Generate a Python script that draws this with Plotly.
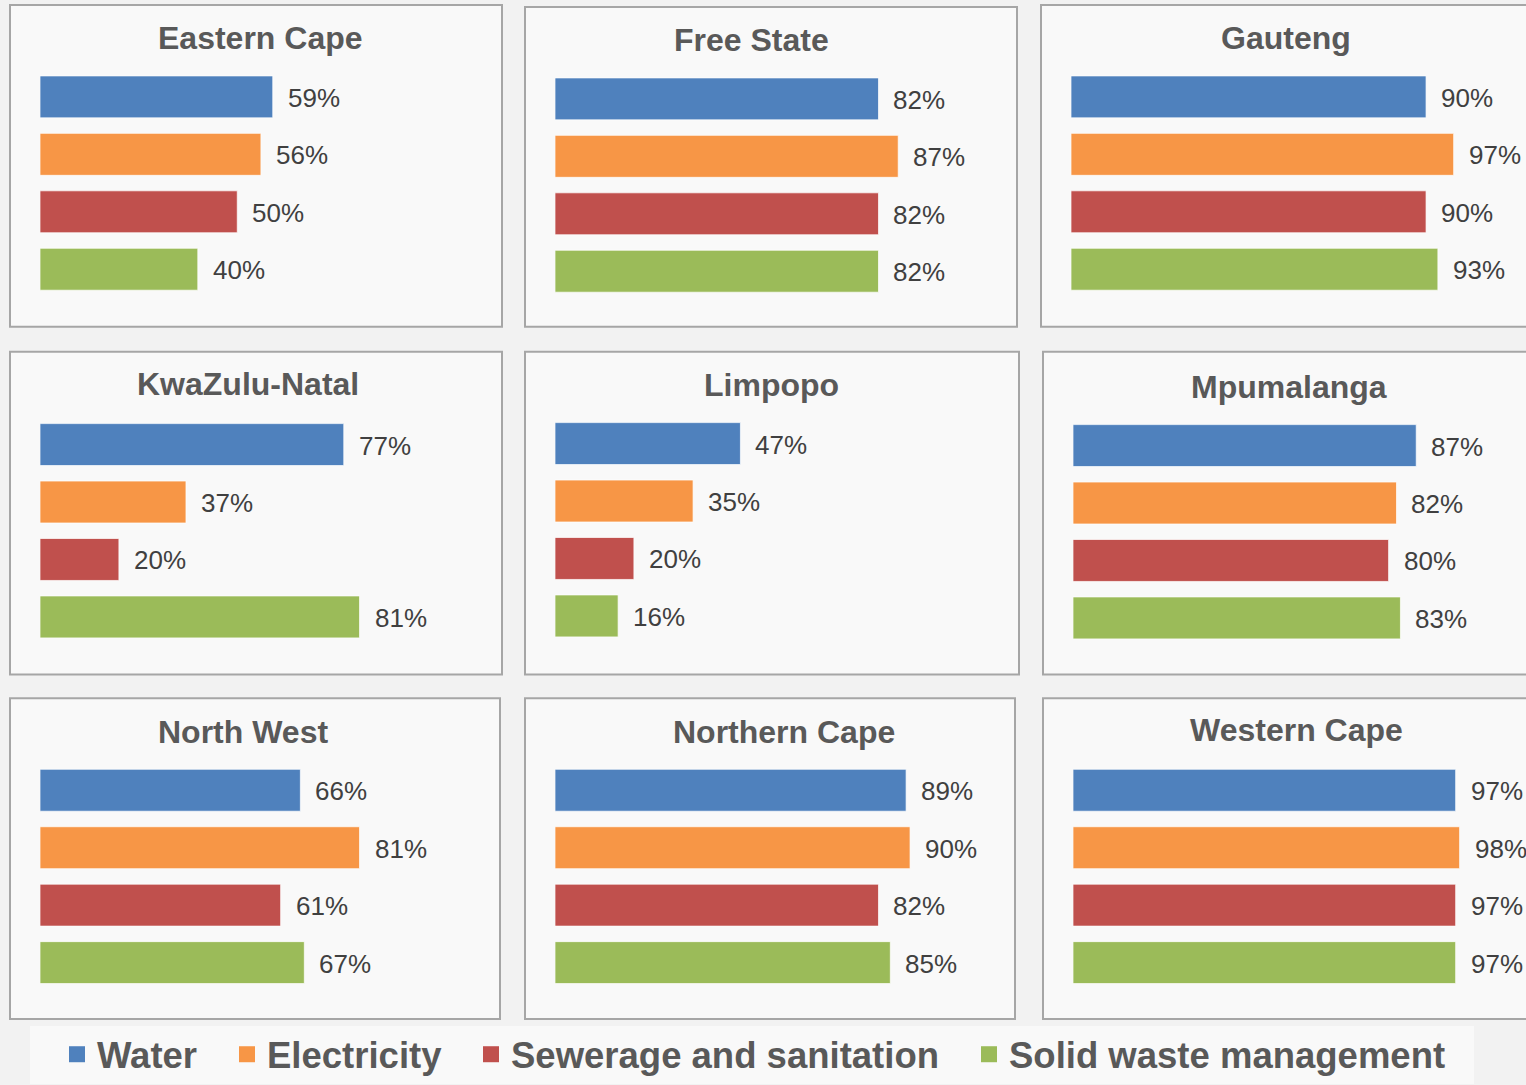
import plotly.graph_objects as go

W, H = 1526, 1085

series = ["Water", "Electricity", "Sewerage and sanitation", "Solid waste management"]
colors = ["#4F81BD", "#F79646", "#C0504D", "#9BBB59"]

provinces = ["Eastern Cape", "Free State", "Gauteng",
             "KwaZulu-Natal", "Limpopo", "Mpumalanga",
             "North West", "Northern Cape", "Western Cape"]

eastern_cape = [59, 56, 50, 40]
free_state = [82, 87, 82, 82]
gauteng = [90, 97, 90, 93]
kwazulu_natal = [77, 37, 20, 81]
limpopo = [47, 35, 20, 16]
mpumalanga = [87, 82, 80, 83]
north_west = [66, 81, 61, 67]
northern_cape = [89, 90, 82, 85]
western_cape = [97, 98, 97, 97]

values = [eastern_cape, free_state, gauteng, kwazulu_natal, limpopo,
          mpumalanga, north_west, northern_cape, western_cape]

# layout geometry (pixels)
panels = [(10, 5, 502, 327), (525, 7, 1017, 327), (1041, 5, 1540, 327),
          (10, 352, 502, 675), (525, 352, 1019, 675), (1043, 352, 1540, 675),
          (10, 699, 500, 1020), (525, 699, 1015, 1020), (1043, 699, 1540, 1020)]
bar_x0 = [40, 555, 1071, 40, 555, 1073, 40, 555, 1073]
bar_top = [76, 78, 76, 424, 423, 425, 770, 770, 770]
title_pos = [(260, 38), (751, 40), (1286, 38),
             (248, 384), (771, 385), (1289, 387),
             (243, 733), (784, 733), (1296, 731)]

PX_PER_PCT = 3.945
XMAX = 112
PITCH = 57.5
GAP = 0.27


def px(x):
    return min(max(x / W, 0), 1)


def py(y):
    return min(max(1 - y / H, 0), 1)


fig = go.Figure()
layout = dict(
    width=W, height=H, margin=dict(l=0, r=0, t=0, b=0),
    paper_bgcolor="#f2f2f2", plot_bgcolor="rgba(0,0,0,0)",
    font=dict(family="Liberation Sans, Arial, sans-serif"),
    bargap=GAP, shapes=[], annotations=[],
)

for i, (prov, vals) in enumerate(zip(provinces, values)):
    n = i + 1
    xa = "x" if n == 1 else f"x{n}"
    ya = "y" if n == 1 else f"y{n}"
    for s, (name, col, v) in enumerate(zip(series, colors, vals)):
        fig.add_trace(go.Bar(
            x=[v], y=[name], orientation="h", name=name,
            marker=dict(color=col, line=dict(color="rgba(255,255,255,0.7)", width=1)),
            xaxis=xa, yaxis=ya, showlegend=False,
            hovertemplate=f"{prov}<br>{name}: %{{x}}%<extra></extra>",
        ))
        layout["annotations"].append(dict(
            x=v, y=name, xref=xa, yref=ya, text=f"{v}%", showarrow=False,
            xanchor="left", yanchor="middle", xshift=13, yshift=-1,
            font=dict(size=26, color="#404040"),
        ))
    x0 = bar_x0[i]
    top = bar_top[i] - PITCH * GAP / 2
    layout[f"xaxis{n}" if n > 1 else "xaxis"] = dict(
        domain=[px(x0), px(x0 + PX_PER_PCT * XMAX)], range=[0, XMAX],
        visible=False, anchor=ya, fixedrange=True,
    )
    layout[f"yaxis{n}" if n > 1 else "yaxis"] = dict(
        domain=[py(top + 4 * PITCH), py(top)], type="category",
        categoryorder="array", categoryarray=series, range=[3.5, -0.5],
        visible=False, anchor=xa, fixedrange=True,
    )
    l, t, r, b = panels[i]
    layout["shapes"].append(dict(
        type="rect", xref="paper", yref="paper",
        x0=l / W, x1=r / W, y0=1 - b / H, y1=1 - t / H,
        line=dict(color="#a6a6a6", width=2), fillcolor="#f9f9f9", layer="below",
    ))
    tx, ty = title_pos[i]
    layout["annotations"].append(dict(
        x=px(tx), y=py(ty), xref="paper", yref="paper", text=prov, showarrow=False,
        xanchor="center", yanchor="middle",
        font=dict(size=32, color="#595959", weight="bold"),
    ))

# legend entries (square swatches)
for s, (name, col) in enumerate(zip(series, colors)):
    fig.add_trace(go.Scatter(
        x=[None], y=[None], mode="markers", name=name,
        marker=dict(symbol="square", size=18, color=col),
        legend="legend" if s == 0 else f"legend{s + 1}",
        showlegend=True, hoverinfo="skip",
    ))

# legend background box
layout["shapes"].append(dict(
    type="rect", xref="paper", yref="paper", x0=30 / W, x1=1474 / W, y0=0, y1=1 - 1027 / H,
    line=dict(width=0), fillcolor="#f9f9f9", layer="below",
))

legend_x = [57, 227, 471, 969]
for s, lx in enumerate(legend_x):
    key = "legend" if s == 0 else f"legend{s + 1}"
    layout[key] = dict(
        x=px(lx), y=py(1055), xanchor="left", yanchor="middle",
        orientation="h", bgcolor="rgba(0,0,0,0)", borderwidth=0,
        font=dict(size=36.5, color="#595959", weight="bold"),
    )

fig.update_layout(**layout)
fig.write_html("out.html", config={"displayModeBar": False},
               post_script="document.body.style.margin='0';document.body.style.overflow='hidden';")
